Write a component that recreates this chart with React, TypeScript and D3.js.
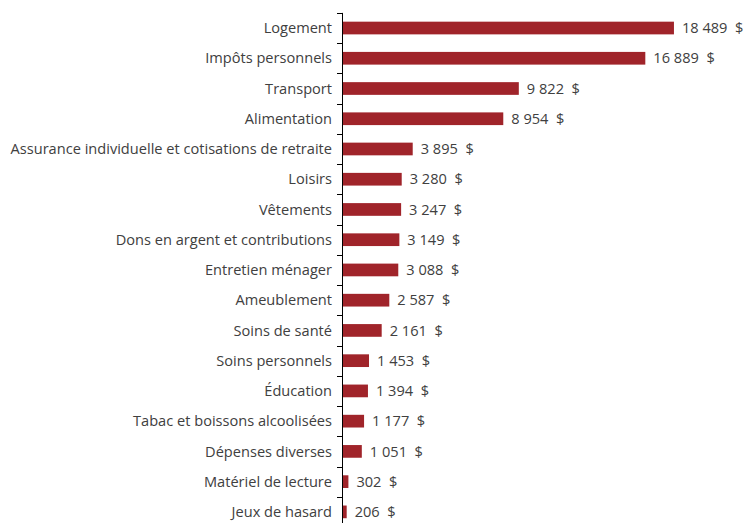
import React, { useEffect, useRef } from "react";
import * as d3 from "d3";

const categories = [
  "Logement",
  "Impôts personnels",
  "Transport",
  "Alimentation",
  "Assurance individuelle et cotisations de retraite",
  "Loisirs",
  "Vêtements",
  "Dons en argent et contributions",
  "Entretien ménager",
  "Ameublement",
  "Soins de santé",
  "Soins personnels",
  "Éducation",
  "Tabac et boissons alcoolisées",
  "Dépenses diverses",
  "Matériel de lecture",
  "Jeux de hasard",
];
const values = [18489, 16889, 9822, 8954, 3895, 3280, 3247, 3149, 3088, 2587, 2161, 1453, 1394, 1177, 1051, 302, 206];

// "18 489  $" with non-breaking spaces so svg keeps them
const fmt = (v: number) => d3.format(",")(v).replace(/,/g, "\u00a0") + "\u00a0\u00a0$";

const App = () => {
  const svgRef = useRef<SVGSVGElement>(null);

  useEffect(() => {
    const width = 747;
    const height = 523;
    const axisX = 342;
    const fontSize = "14.6px";

    const svg = d3.select(svgRef.current).attr("width", width).attr("height", height);
    svg.selectAll("*").remove();

    const data = categories.map((c, i) => ({ name: c, value: values[i] }));

    const y = d3.scaleBand().domain(categories).range([12.9, 527]).paddingInner(0.58).paddingOuter(0.29);
    const x = d3.scaleLinear().domain([0, 20000]).range([axisX + 1, axisX + 1 + 358]);

    svg
      .selectAll("rect")
      .data(data)
      .enter()
      .append("rect")
      .attr("x", x(0))
      .attr("y", (d) => y(d.name)!)
      .attr("width", (d) => x(d.value) - x(0))
      .attr("height", y.bandwidth())
      .attr("fill", "#A0242A");

    // value labels
    svg
      .selectAll("text.val")
      .data(data)
      .enter()
      .append("text")
      .attr("class", "val")
      .attr("x", (d) => x(d.value) + 8)
      .attr("y", (d) => y(d.name)! + y.bandwidth() / 2)
      .attr("dy", "0.35em")
      .style("font-family", "'Open Sans', sans-serif")
      .style("font-size", fontSize)
      .style("fill", "#404040")
      .text((d) => fmt(d.value));

    // axis line and ticks at category boundaries
    const step = y.step();
    const top = 12.9;
    const g = svg.append("g");
    g.append("line")
      .attr("x1", axisX + 0.5)
      .attr("x2", axisX + 0.5)
      .attr("y1", top)
      .attr("y2", height)
      .attr("stroke", "#000")
      .attr("stroke-width", 1);
    g.selectAll("line.tick")
      .data(d3.range(categories.length + 1))
      .enter()
      .append("line")
      .attr("class", "tick")
      .attr("x1", axisX - 5)
      .attr("x2", axisX + 0.5)
      .attr("y1", (i) => Math.round(top + i * step) + 0.5)
      .attr("y2", (i) => Math.round(top + i * step) + 0.5)
      .attr("stroke", "#000");

    // category labels
    svg
      .selectAll("text.cat")
      .data(data)
      .enter()
      .append("text")
      .attr("class", "cat")
      .attr("x", axisX - 10)
      .attr("y", (d) => y(d.name)! + y.bandwidth() / 2)
      .attr("dy", "0.35em")
      .attr("text-anchor", "end")
      .style("font-family", "'Open Sans', sans-serif")
      .style("font-size", fontSize)
      .style("fill", "#404040")
      .text((d) => d.name);
  }, []);

  return <svg ref={svgRef} style={{ position: "absolute", left: 0, top: 0 }}></svg>;
};

export default App;
